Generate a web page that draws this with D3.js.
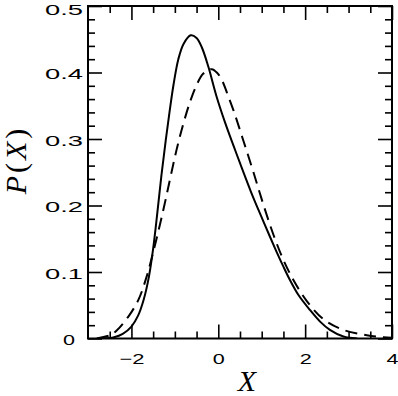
<!DOCTYPE html>
<html>
<head>
<meta charset="utf-8">
<script src="https://cdn.jsdelivr.net/npm/d3@7"></script>
<style>
  body { margin: 0; background: #fff; }
  svg { display: block; }
</style>
</head>
<body>
<script>
var svgWidth = 398;
var svgHeight = 396;

// solid curve
var solidX = [-2.65, -2.4, -2.2, -2.0, -1.85, -1.72, -1.6, -1.5, -1.41, -1.31, -1.21, -1.12, -1.03, -0.92, -0.8, -0.635, -0.5, -0.38, -0.23, -0.04, 0.155, 0.35, 0.55, 0.75, 0.96, 1.19, 1.345, 1.5, 1.65, 1.85, 2.11, 2.35, 2.57, 2.88, 3.2];
var solidP = [0.0, 0.002, 0.007, 0.018, 0.034, 0.058, 0.092, 0.135, 0.185, 0.245, 0.298, 0.342, 0.382, 0.42, 0.443, 0.456, 0.452, 0.438, 0.409, 0.364, 0.325, 0.29, 0.255, 0.221, 0.188, 0.153, 0.13, 0.108, 0.088, 0.065, 0.043, 0.025, 0.013, 0.003, 0.0];

// dashed curve
var dashX = [-2.8, -2.49, -2.34, -2.07, -1.84, -1.65, -1.46, -1.27, -1.11, -0.96, -0.8, -0.65, -0.5, -0.35, -0.15, -0.02, 0.1, 0.22, 0.35, 0.58, 0.81, 1.04, 1.27, 1.5, 1.73, 2.03, 2.42, 2.88, 3.42, 3.8, 4.0];
var dashP = [0.0, 0.005, 0.012, 0.033, 0.058, 0.093, 0.14, 0.192, 0.24, 0.284, 0.324, 0.356, 0.381, 0.398, 0.405, 0.399, 0.386, 0.366, 0.343, 0.297, 0.25, 0.201, 0.156, 0.118, 0.088, 0.057, 0.029, 0.013, 0.005, 0.002, 0.001];

var xMajor = [-2, 0, 2, 4];
var xMinor = [-2.5, -1.5, -1, -0.5, 0.5, 1, 1.5, 2.5, 3, 3.5];
var yMajor = [0, 0.1, 0.2, 0.3, 0.4, 0.5];
var yMinor = [];
for (var i = 1; i < 25; i++) {
    if (i % 5 != 0) yMinor.push(i * 0.02);
}

var padL = 88, padR = 392, padT = 6, padB = 338.5;

var x = d3.scaleLinear().domain([-3, 4]).range([padL, padR]);
var y = d3.scaleLinear().domain([0, 0.5]).range([padB, padT]);

var svg = d3.select("body")
    .append("svg")
    .attr("width", svgWidth)
    .attr("height", svgHeight);

svg.append("clipPath")
    .attr("id", "plotclip")
    .append("rect")
    .attr("x", padL)
    .attr("y", padT)
    .attr("width", padR - padL)
    .attr("height", padB - padT);

var labelFont = "'Liberation Sans', Arial, sans-serif";

function stretchLabels(g) {
    g.selectAll(".tick text")
        .attr("font-family", labelFont)
        .attr("font-size", "15px")
        .attr("fill", "#000")
        .attr("lengthAdjust", "spacingAndGlyphs")
        .attr("textLength", function () {
            var t = d3.select(this).text();
            return t.length * 13 - 1;
        });
}

function styleAxis(g) {
    g.select(".domain").remove();
    g.selectAll(".tick line").attr("stroke", "#000").attr("stroke-width", 1.6);
}

// bottom
var gB = svg.append("g").attr("transform", "translate(0," + padB + ")")
    .call(d3.axisBottom(x).tickValues(xMajor).tickSize(-14).tickPadding(15).tickFormat(d3.format("d")));
styleAxis(gB); stretchLabels(gB);
var gBm = svg.append("g").attr("transform", "translate(0," + padB + ")")
    .call(d3.axisBottom(x).tickValues(xMinor).tickSize(-7).tickFormat(""));
styleAxis(gBm);

// top
var gT = svg.append("g").attr("transform", "translate(0," + padT + ")")
    .call(d3.axisTop(x).tickValues(xMajor).tickSize(-14).tickFormat(""));
styleAxis(gT);
var gTm = svg.append("g").attr("transform", "translate(0," + padT + ")")
    .call(d3.axisTop(x).tickValues(xMinor).tickSize(-7).tickFormat(""));
styleAxis(gTm);

// left
var gL = svg.append("g").attr("transform", "translate(" + padL + ",0)")
    .call(d3.axisLeft(y).tickValues(yMajor).tickSize(-14).tickPadding(5)
        .tickFormat(function (d) { return d == 0 ? "0" : d3.format(".1f")(d); }));
styleAxis(gL); stretchLabels(gL);
gL.selectAll(".tick text")
    .attr("dy", function (d) { return d == 0.5 ? "0.55em" : "0.4em"; })
    .attr("x", function (d) { return d == 0 ? -13 : -5; });
var gLm = svg.append("g").attr("transform", "translate(" + padL + ",0)")
    .call(d3.axisLeft(y).tickValues(yMinor).tickSize(-7).tickFormat(""));
styleAxis(gLm);

// right
var gR = svg.append("g").attr("transform", "translate(" + padR + ",0)")
    .call(d3.axisRight(y).tickValues(yMajor).tickSize(-14).tickFormat(""));
styleAxis(gR);
var gRm = svg.append("g").attr("transform", "translate(" + padR + ",0)")
    .call(d3.axisRight(y).tickValues(yMinor).tickSize(-7).tickFormat(""));
styleAxis(gRm);

// frame
svg.append("rect")
    .attr("x", padL)
    .attr("y", padT)
    .attr("width", padR - padL)
    .attr("height", padB - padT)
    .attr("fill", "none")
    .attr("stroke", "#000")
    .attr("stroke-width", 2);

var line = d3.line()
    .x(function (d) { return x(d[0]); })
    .y(function (d) { return y(d[1]); })
    .curve(d3.curveCatmullRom.alpha(0.5));

var solid = d3.zip(solidX, solidP);
var dashed = d3.zip(dashX, dashP);

svg.append("path")
    .datum(dashed)
    .attr("clip-path", "url(#plotclip)")
    .attr("d", line)
    .attr("fill", "none")
    .attr("stroke", "#000")
    .attr("stroke-width", 2)
    .attr("stroke-dasharray", "12,7");

svg.append("path")
    .datum(solid)
    .attr("clip-path", "url(#plotclip)")
    .attr("d", line)
    .attr("fill", "none")
    .attr("stroke", "#000")
    .attr("stroke-width", 2);

// axis titles
var titleFont = "'Liberation Serif', 'Times New Roman', serif";

svg.append("text")
    .attr("x", 247)
    .attr("y", 391)
    .attr("text-anchor", "middle")
    .attr("font-family", titleFont)
    .attr("font-size", "30px")
    .attr("font-style", "italic")
    .text("X");

var yt = svg.append("text")
    .attr("transform", "translate(26,160) rotate(-90)")
    .attr("text-anchor", "middle")
    .attr("font-family", titleFont)
    .attr("font-size", "30px")
    .attr("letter-spacing", "3px");
yt.append("tspan").attr("font-style", "italic").text("P");
yt.append("tspan").text("(");
yt.append("tspan").attr("font-style", "italic").text("X");
yt.append("tspan").text(")");
</script>
</body>
</html>
